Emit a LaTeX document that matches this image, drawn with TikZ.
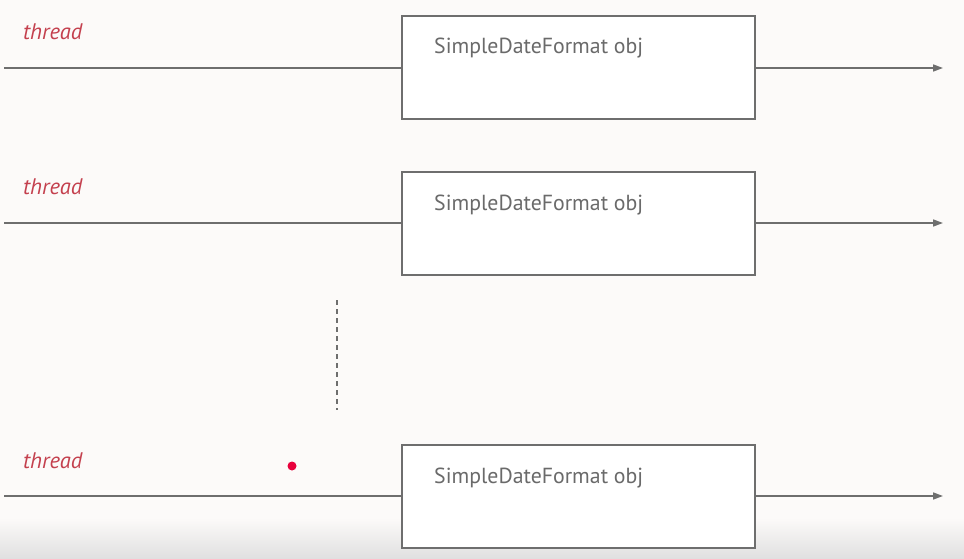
\documentclass[tikz,border=0pt]{standalone}
\usepackage{fontspec}
\setmainfont{PT Sans}
\usetikzlibrary{arrows.meta}
\definecolor{bg}{HTML}{FCFAF9}
\definecolor{ln}{HTML}{6E6E6E}
\definecolor{tx}{HTML}{6A6A6A}
\definecolor{thr}{HTML}{C4404E}
\definecolor{dot}{HTML}{E8003C}
\tikzset{
  objbox/.style={draw=ln, line width=1.6pt, fill=white, minimum width=353pt, minimum height=103pt, inner sep=0pt},
  objtext/.style={text=tx, font=\fontsize{21.8}{26}\selectfont, anchor=base west, inner sep=0pt},
  thrtext/.style={text=thr, font=\fontsize{22.5}{27}\selectfont\itshape, anchor=base west, inner sep=0pt},
  life/.style={draw=ln, line width=1.6pt},
  lifearrow/.style={life, -{Triangle[length=10pt,width=7pt]}},
}
\begin{document}
\begin{tikzpicture}[x=1pt,y=1pt]
\useasboundingbox (0,0) rectangle (964,558);
\fill[bg] (0,0) rectangle (964,558);
\shade[bottom color=black!12, top color=bg] (0,0) rectangle (964,40);
% rows
\foreach \i/\yb/\yl/\yt/\yth in {1/490.5/490/504/518, 2/334.5/335/348/363, 3/61.5/62/75/90}{
  \node[objbox] (box\i) at (578.5,\yb) {};
  \node[objtext] (lab\i) at (434,\yt) {SimpleDateFormat obj};
  \node[thrtext] (thr\i) at (23,\yth) {thread};
  \coordinate (s\i) at (4,\yl);
  \coordinate (e\i) at (943,\yl);
  \draw[life] (s\i) -- (s\i -| box\i.west);
  \draw[lifearrow] (e\i -| box\i.east) -- (e\i);
}
\coordinate (d1) at (337,258);
\coordinate (d2) at (337,148);
\draw[ln, line width=1.4pt, dash pattern=on 5pt off 4pt] (d1) -- (d2);
\node[circle, fill=dot, minimum size=9pt, inner sep=0pt] (pt) at (292,92) {};
\end{tikzpicture}
\end{document}
